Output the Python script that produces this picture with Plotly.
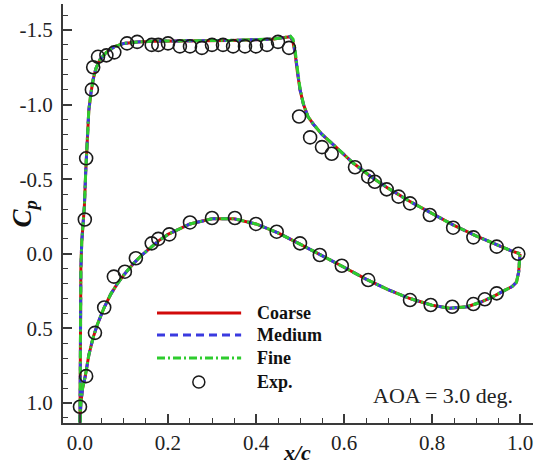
import plotly.graph_objects as go

# ---- CFD pressure distributions (upper surface LE->TE, lower surface LE->TE)
upper_x = [0.0, 0.0003, 0.001, 0.002, 0.004, 0.007, 0.010, 0.013, 0.016, 0.020, 0.025,
           0.030, 0.036, 0.045, 0.060, 0.080, 0.100, 0.130, 0.170, 0.220, 0.280, 0.340,
           0.400, 0.440, 0.465, 0.478, 0.484, 0.489, 0.494, 0.500, 0.508, 0.518, 0.530,
           0.550, 0.580, 0.620, 0.660, 0.700, 0.750, 0.800, 0.850, 0.900, 0.950, 0.980, 1.0]
upper_coarse = [1.13, 0.80, 0.40, 0.10, -0.08, -0.20, -0.32, -0.55, -0.78, -0.96, -1.08,
                -1.17, -1.24, -1.30, -1.35, -1.39, -1.41, -1.42, -1.425, -1.425, -1.43, -1.43,
                -1.435, -1.44, -1.45, -1.455, -1.42, -1.34, -1.22, -1.10, -1.00, -0.92, -0.87,
                -0.80, -0.72, -0.61, -0.52, -0.44, -0.35, -0.27, -0.19, -0.12, -0.055, -0.02, 0.0]
upper_medium = [1.13, 0.80, 0.40, 0.10, -0.08, -0.20, -0.32, -0.55, -0.78, -0.96, -1.08,
                -1.17, -1.24, -1.30, -1.35, -1.39, -1.41, -1.42, -1.425, -1.425, -1.43, -1.43,
                -1.435, -1.44, -1.45, -1.457, -1.43, -1.35, -1.23, -1.10, -1.00, -0.92, -0.87,
                -0.80, -0.72, -0.61, -0.52, -0.44, -0.35, -0.27, -0.19, -0.12, -0.055, -0.02, 0.0]
upper_fine = [1.13, 0.80, 0.40, 0.10, -0.08, -0.20, -0.32, -0.55, -0.78, -0.96, -1.08,
              -1.17, -1.24, -1.30, -1.35, -1.39, -1.41, -1.42, -1.425, -1.425, -1.43, -1.43,
              -1.435, -1.44, -1.45, -1.458, -1.44, -1.36, -1.24, -1.11, -1.00, -0.92, -0.87,
              -0.80, -0.72, -0.61, -0.52, -0.44, -0.35, -0.27, -0.19, -0.12, -0.055, -0.02, 0.0]

lower_x = [0.0, 0.002, 0.006, 0.012, 0.020, 0.030, 0.040, 0.055, 0.070, 0.085, 0.100,
           0.120, 0.140, 0.160, 0.180, 0.200, 0.250, 0.300, 0.350, 0.400, 0.450, 0.500,
           0.550, 0.600, 0.650, 0.700, 0.750, 0.800, 0.840, 0.880, 0.910, 0.940, 0.965,
           0.982, 0.992, 0.997, 1.0]
lower_coarse = [1.13, 1.00, 0.90, 0.82, 0.68, 0.56, 0.47, 0.36, 0.27, 0.20, 0.14,
                0.07, 0.01, -0.04, -0.09, -0.13, -0.20, -0.235, -0.235, -0.20, -0.14, -0.065,
                0.01, 0.09, 0.17, 0.24, 0.30, 0.345, 0.365, 0.355, 0.325, 0.285, 0.245,
                0.22, 0.19, 0.12, 0.0]
lower_medium = list(lower_coarse)
lower_fine = list(lower_coarse)

# ---- Experimental data
exp_x = [0.011, 0.014, 0.027, 0.030, 0.041, 0.060, 0.078, 0.107, 0.130, 0.163, 0.178,
         0.200, 0.227, 0.250, 0.277, 0.300, 0.325, 0.348, 0.375, 0.400, 0.425, 0.450,
         0.475, 0.498, 0.523, 0.550, 0.572, 0.625, 0.655, 0.670, 0.697, 0.724, 0.750,
         0.795, 0.848, 0.894, 0.947, 0.996,
         0.0, 0.014, 0.034, 0.055, 0.077, 0.102, 0.127, 0.163, 0.178, 0.203, 0.250,
         0.300, 0.352, 0.400, 0.447, 0.500, 0.545, 0.595, 0.655, 0.750, 0.797, 0.846,
         0.894, 0.920, 0.947]
exp_cp = [-0.23, -0.64, -1.10, -1.25, -1.32, -1.33, -1.35, -1.41, -1.42, -1.40, -1.40,
          -1.41, -1.39, -1.39, -1.38, -1.40, -1.40, -1.39, -1.39, -1.39, -1.40, -1.42,
          -1.38, -0.92, -0.78, -0.715, -0.67, -0.58, -0.517, -0.483, -0.432, -0.383, -0.338,
          -0.26, -0.175, -0.11, -0.048, 0.0,
          1.025, 0.82, 0.53, 0.36, 0.153, 0.12, 0.03, -0.07, -0.10, -0.13, -0.21,
          -0.24, -0.24, -0.20, -0.148, -0.07, 0.008, 0.08, 0.176, 0.31, 0.343, 0.355,
          0.337, 0.305, 0.265]

# ---- Axis ticks
y_tickvals = [-1.5, -1.0, -0.5, 0.0, 0.5, 1.0]
y_ticktext = ["-1.5", "-1.0", "-0.5", "0.0", "0.5", "1.0"]
x_tickvals = [0.0, 0.2, 0.4, 0.6, 0.8, 1.0]
x_ticktext = ["0.0", "0.2", "0.4", "0.6", "0.8", "1.0"]

series_names = ["Coarse", "Medium", "Fine"]
series_colors = ["#d10a0a", "#3a3ae0", "#2ecc2e"]
series_dash = ["solid", "8px,5px", "8px,3px,2px,3px"]
series_upper = [upper_coarse, upper_medium, upper_fine]
series_lower = [lower_coarse, lower_medium, lower_fine]

SERIF = "Liberation Serif, Times New Roman, serif"

fig = go.Figure()
for name, col, dash, up, lo in zip(series_names, series_colors, series_dash,
                                   series_upper, series_lower):
    # upper and lower surfaces drawn as one trace, separated by a gap
    xs = upper_x + [None] + lower_x
    ys = up + [None] + lo
    fig.add_trace(go.Scatter(x=xs, y=ys, mode="lines", name=name, showlegend=False,
                             line=dict(color=col, width=3, dash=dash)))

fig.add_trace(go.Scatter(x=exp_x, y=exp_cp, mode="markers", name="Exp.", showlegend=False,
                         marker=dict(symbol="circle-open", size=13, color="#1a1a1a",
                                     line=dict(width=1.6, color="#1a1a1a"))))

axis_common = dict(showline=True, linecolor="#3a3a3a", linewidth=2, mirror=False,
                   showgrid=False, zeroline=False, ticks="inside", tickcolor="#3a3a3a",
                   tickwidth=1.5, tickfont=dict(family=SERIF, size=21, color="#222"))

fig.update_xaxes(range=[-0.0386, 1.0295], tickvals=x_tickvals, ticktext=x_ticktext,
                 ticklen=9, minor=dict(dtick=0.05, tick0=0, ticks="inside", ticklen=5,
                                       tickcolor="#3a3a3a", tickwidth=1.2),
                 **axis_common)
fig.update_yaxes(range=[1.134, -1.674], tickvals=y_tickvals, ticktext=y_ticktext,
                 ticklen=9, ticklabelstandoff=4,
                 minor=dict(dtick=0.1, tick0=0, ticks="inside", ticklen=5,
                            tickcolor="#3a3a3a", tickwidth=1.2),
                 **axis_common)

# ---- Legend drawn in paper coordinates
leg_x0, leg_x1, leg_tx = 0.20, 0.379, 0.4085
leg_rows = [0.2625, 0.210, 0.155, 0.098]
shapes = []
for row, col, dash in zip(leg_rows[:3], series_colors, series_dash):
    shapes.append(dict(type="line", xref="paper", yref="paper", x0=leg_x0, x1=leg_x1,
                       y0=row, y1=row, line=dict(color=col, width=3, dash=dash)))
shapes.append(dict(type="circle", xref="paper", yref="paper", xsizemode="pixel",
                   ysizemode="pixel", xanchor=0.289, yanchor=leg_rows[3],
                   x0=-6, x1=6, y0=-6, y1=6, line=dict(color="#1a1a1a", width=1.5)))

annotations = []
for row, label in zip(leg_rows, series_names + ["Exp."]):
    annotations.append(dict(xref="paper", yref="paper", x=leg_tx, y=row, xanchor="left",
                            yanchor="middle", showarrow=False, text="<b>%s</b>" % label,
                            font=dict(family=SERIF, size=18, color="#111")))

annotations.append(dict(xref="paper", yref="paper", x=0.655, y=0.0668, xanchor="left",
                        yanchor="middle", showarrow=False, text="AOA = 3.0 deg.",
                        font=dict(family=SERIF, size=22, color="#222")))
annotations.append(dict(xref="paper", yref="paper", x=-0.083, y=0.5, xanchor="center",
                        yanchor="middle", showarrow=False, textangle=-90,
                        text="<b><i>C<sub>p</sub></i></b>",
                        font=dict(family=SERIF, size=27, color="#111")))
annotations.append(dict(xref="paper", yref="paper", x=0.497, y=-0.071, xanchor="center",
                        yanchor="middle", showarrow=False, text="<b><i>x/c</i></b>",
                        font=dict(family=SERIF, size=22, color="#111")))

fig.update_layout(width=536, height=466, margin=dict(l=63, r=3, t=4, b=43),
                  paper_bgcolor="white", plot_bgcolor="white",
                  shapes=shapes, annotations=annotations, showlegend=False)

fig.write_html("out.html")
